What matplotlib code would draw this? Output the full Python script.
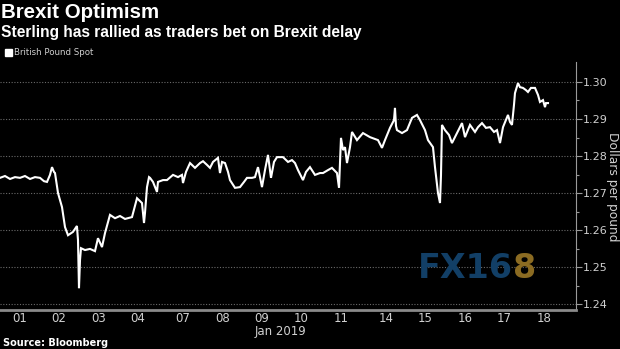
import matplotlib
matplotlib.use("Agg")
import matplotlib.pyplot as plt
from matplotlib.ticker import FixedLocator, FuncFormatter

title = "Brexit Optimism"
subtitle = "Sterling has rallied as traders bet on Brexit delay"
series_name = "British Pound Spot"
source = "Source: Bloomberg"
y_label = "Dollars per pound"
x_sublabel = "Jan 2019"

# trading days shown on the x axis
day_labels = ["01", "02", "03", "04", "07", "08", "09", "10", "11", "14", "15", "16", "17", "18"]
# trading-day index of each label (weekends compressed)
day_index = [0, 1, 2, 3, 4, 5, 6, 7, 8, 9, 10, 11, 12, 13]
weekend_after = [3, 8]  # index after which a weekend gap falls

y_major = [1.24, 1.25, 1.26, 1.27, 1.28, 1.29, 1.30]
y_minor = [1.245, 1.255, 1.265, 1.275, 1.285, 1.295]

# time in trading days (relative to the "01" label) and GBP/USD level
t_days = [-0.489, -0.362, -0.235, -0.109, 0.018, 0.144, 0.271, 0.397, 0.524, 0.625,
          0.701, 0.777, 0.828, 0.878, 0.904, 0.980, 1.081, 1.157, 1.233, 1.359,
          1.459, 1.486, 1.511, 1.537, 1.562, 1.663, 1.790, 1.916, 1.992, 2.094,
          2.170, 2.296, 2.423, 2.549, 2.676, 2.853, 2.980, 3.106, 3.157, 3.182,
          3.233, 3.284, 3.309, 3.385, 3.486, 3.511, 3.638, 3.739, 3.891, 4.018,
          4.119, 4.144, 4.220, 4.322, 4.448, 4.575, 4.651, 4.752, 4.828, 4.904,
          5.030, 5.081, 5.132, 5.208, 5.284, 5.334, 5.461, 5.587, 5.689, 5.765,
          5.891, 5.967, 6.043, 6.144, 6.220, 6.296, 6.372, 6.448, 6.524, 6.676,
          6.803, 6.904, 6.980, 7.056, 7.182, 7.258, 7.359, 7.486, 7.613, 7.689,
          7.815, 7.916, 8.043, 8.094, 8.144, 8.195, 8.246, 8.296, 8.372, 8.423,
          8.549, 8.701, 8.878, 9.005, 9.081, 9.182, 9.258, 9.385, 9.486, 9.511,
          9.537, 9.562, 9.689, 9.815, 9.942, 10.068, 10.144, 10.271, 10.347, 10.473,
          10.524, 10.600, 10.651, 10.676, 10.701, 10.777, 10.878, 10.954, 11.081, 11.208,
          11.284, 11.410, 11.537, 11.613, 11.714, 11.815, 11.916, 12.018, 12.094, 12.170,
          12.246, 12.372, 12.423, 12.473, 12.524, 12.549, 12.625, 12.676, 12.752, 12.828,
          12.878, 12.954, 13.056, 13.132, 13.182, 13.258, 13.309, 13.334, 13.385]
gbpusd = [1.2741, 1.2746, 1.2738, 1.2743, 1.2741, 1.2746, 1.2738, 1.2743, 1.2741, 1.2732,
          1.2730, 1.2749, 1.2770, 1.2757, 1.2754, 1.2700, 1.2662, 1.2608, 1.2586, 1.2595,
          1.2611, 1.2573, 1.2443, 1.2519, 1.2551, 1.2546, 1.2549, 1.2543, 1.2578, 1.2554,
          1.2592, 1.2641, 1.2632, 1.2638, 1.2630, 1.2635, 1.2686, 1.2673, 1.2619, 1.2646,
          1.2716, 1.2743, 1.2741, 1.2730, 1.2703, 1.2730, 1.2735, 1.2735, 1.2749, 1.2743,
          1.2749, 1.2727, 1.2757, 1.2781, 1.2768, 1.2781, 1.2786, 1.2776, 1.2768, 1.2784,
          1.2795, 1.2754, 1.2784, 1.2781, 1.2757, 1.2735, 1.2714, 1.2716, 1.2730, 1.2741,
          1.2741, 1.2743, 1.2770, 1.2716, 1.2762, 1.2803, 1.2741, 1.2784, 1.2797, 1.2797,
          1.2784, 1.2789, 1.2781, 1.2762, 1.2735, 1.2757, 1.2770, 1.2749, 1.2754, 1.2754,
          1.2762, 1.2768, 1.2754, 1.2714, 1.2849, 1.2816, 1.2824, 1.2781, 1.2824, 1.2865,
          1.2843, 1.2862, 1.2851, 1.2846, 1.2843, 1.2822, 1.2843, 1.2876, 1.2897, 1.2930,
          1.2881, 1.2870, 1.2862, 1.2870, 1.2903, 1.2911, 1.2897, 1.2870, 1.2843, 1.2824,
          1.2770, 1.2700, 1.2673, 1.2749, 1.2884, 1.2870, 1.2857, 1.2835, 1.2862, 1.2889,
          1.2851, 1.2884, 1.2865, 1.2878, 1.2889, 1.2876, 1.2878, 1.2865, 1.2870, 1.2835,
          1.2878, 1.2911, 1.2892, 1.2884, 1.2938, 1.2970, 1.2997, 1.2986, 1.2984, 1.2978,
          1.2973, 1.2984, 1.2984, 1.2965, 1.2946, 1.2951, 1.2932, 1.2943, 1.2943]

weekend_gap = 0.14
tick_pos = [i + weekend_gap * sum(1 for w in weekend_after if i > w) for i in day_index]

W, H = 620, 349
fig = plt.figure(figsize=(W / 100, H / 100), dpi=100, facecolor="black")
ax = fig.add_axes([0, 1 - 310 / H, 576 / W, 248 / H], facecolor="black")

ax.plot(t_days, gbpusd, color="white", lw=1.5, solid_joinstyle="miter", zorder=3)

ax.set_xlim(-0.4886, 14.094)
ax.set_ylim(1.2384, 1.3054)

ax.yaxis.tick_right()
ax.yaxis.set_major_locator(FixedLocator(y_major))
ax.yaxis.set_minor_locator(FixedLocator(y_minor))
ax.yaxis.set_major_formatter(FuncFormatter(lambda v, p: f"{v:.2f}"))
ax.tick_params(axis="y", which="major", colors="#9a9a9a", labelcolor="#d0d0d0",
               length=4, width=0.8, labelsize=8, pad=1, direction="out")
ax.tick_params(axis="y", which="minor", colors="#9a9a9a", length=2.5, width=0.8, direction="out")

ax.set_xticks(tick_pos)
ax.set_xticklabels(day_labels)
ax.tick_params(axis="x", length=0, labelcolor="#d0d0d0", labelsize=8.5, pad=1.5)

ax.grid(axis="y", which="major", color="#6a6a6a", linestyle=(0, (1, 1.5)), lw=0.8)
for s in ["top", "left"]:
    ax.spines[s].set_visible(False)
ax.spines["bottom"].set_color("#8a8a8a")
ax.spines["bottom"].set_linewidth(2)
ax.spines["right"].set_color("#9a9a9a")
ax.spines["right"].set_linewidth(0.8)

fig.text(281 / W, 1 - 331 / H, x_sublabel, color="#d0d0d0", fontsize=8.5,
         ha="center", va="center")
fig.text(612 / W, 1 - 187 / H, y_label, color="#d0d0d0", fontsize=8.8, rotation=270,
         ha="center", va="center")

fig.text(1 / W, 1 - 13 / H, title, color="white", fontsize=14.8, fontweight="bold",
         family="Liberation Sans", ha="left", va="center")
fig.text(1 / W, 1 - 32 / H, subtitle, color="white", fontsize=11.2, fontweight="bold",
         family="Liberation Sans", ha="left", va="center")
fig.patches.append(matplotlib.patches.Rectangle((5 / W, 1 - 56 / H), 7 / W, 7 / H,
                   transform=fig.transFigure, color="white"))
fig.text(13.5 / W, 1 - 52.5 / H, series_name, color="#d0d0d0", fontsize=6.2,
         ha="left", va="center")
fig.text(3 / W, 1 - 343 / H, source, color="white", fontsize=7, fontweight="bold",
         ha="left", va="center")

# watermark
wm1 = fig.text(418 / W, 1 - 269 / H, "FX16", color="#123f66", fontsize=24, fontweight="bold",
               ha="left", va="center", zorder=1)
fig.canvas.draw()
bb = wm1.get_window_extent(renderer=fig.canvas.get_renderer())
fig.text(bb.x1 / W, 1 - 269 / H, "8", color="#8b6b22", fontsize=24, fontweight="bold",
         ha="left", va="center", zorder=1)

fig.savefig("out.png", dpi=100, facecolor="black")
